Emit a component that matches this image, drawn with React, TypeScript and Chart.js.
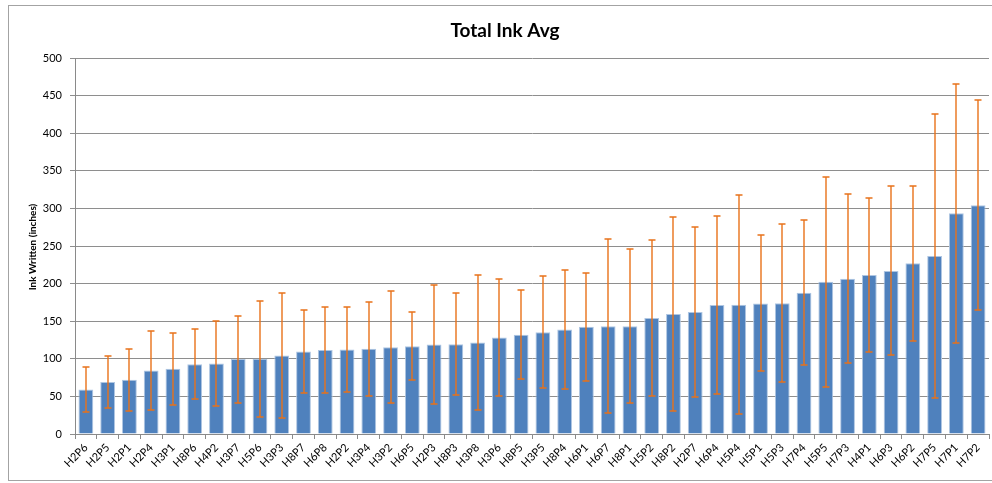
import React, { useEffect, useRef } from "react";
import { Chart, registerables } from "chart.js";

Chart.register(...registerables);

const categories = [
  "H2P6", "H2P5", "H2P1", "H2P4", "H3P1", "H8P6", "H4P2", "H3P7", "H5P6", "H3P3",
  "H8P7", "H6P8", "H2P2", "H3P4", "H3P2", "H6P5", "H2P3", "H8P3", "H3P8", "H3P6",
  "H8P5", "H3P5", "H8P4", "H6P1", "H6P7", "H8P1", "H5P2", "H8P2", "H2P7", "H6P4",
  "H5P4", "H5P1", "H5P3", "H7P4", "H5P5", "H7P3", "H4P1", "H6P3", "H6P2", "H7P5",
  "H7P1", "H7P2",
];

const avgInk = [
  59.3, 69.1, 72.2, 84.6, 86.9, 92.8, 93.8, 99.6, 100, 104.4,
  109.8, 111.6, 112.3, 113.5, 115.5, 116.8, 119, 119.5, 121.7, 128.3,
  132.1, 135.3, 139, 142.5, 143.2, 143.4, 154.1, 159.6, 162.1, 171.5,
  171.9, 173.7, 173.9, 187.9, 202.3, 206.3, 211.4, 216.9, 227, 236.7,
  293.5, 304.3,
];

const stdDev = [
  29.5, 34.9, 41.1, 52.6, 47.8, 46.2, 56, 57.8, 76.9, 82.7,
  54.7, 57.4, 56.4, 62.5, 74.5, 44.9, 79, 68, 89.7, 77.8,
  59.3, 74.4, 79.5, 72, 115.7, 102.6, 103.9, 129, 113, 118.7,
  145.3, 90.3, 104.7, 96.5, 139.3, 112.3, 102.7, 112.3, 102.8, 189.3,
  172.4, 139.4,
];

const yTicks = { min: 0, max: 500, step: 50 };

const titleText = "Total Ink Avg";
const yTitleText = "Ink Written (inches)";

const FONT = "Lato, 'Open Sans', 'DejaVu Sans', sans-serif";

const decorPlugin = {
  id: "decor",
  beforeDraw(chart: any) {
    const ctx = chart.ctx;
    ctx.save();
    ctx.fillStyle = "#ffffff";
    ctx.fillRect(0, 0, chart.width, chart.height);
    ctx.strokeStyle = "#a3a3a3";
    ctx.lineWidth = 1;
    ctx.strokeRect(8.5, 5.5, 1010, 475);
    ctx.restore();
  },
  afterDraw(chart: any) {
    const ctx = chart.ctx;
    ctx.save();
    ctx.fillStyle = "#000000";
    ctx.textAlign = "center";
    ctx.textBaseline = "middle";
    ctx.font = `bold 19px ${FONT}`;
    ctx.fillText(titleText, 505, 31);
    ctx.translate(33, 247);
    ctx.rotate(-Math.PI / 2);
    ctx.font = `bold 10px ${FONT}`;
    ctx.fillText(yTitleText, 0, 0);
    ctx.restore();
  },
};

const errorBarPlugin = {
  id: "errorBars",
  afterDatasetsDraw(chart: any) {
    const ctx = chart.ctx;
    const meta = chart.getDatasetMeta(0);
    const y = chart.scales.y;
    ctx.save();
    ctx.strokeStyle = "#E8721A";
    ctx.lineWidth = 1.4;
    meta.data.forEach((bar: any, i: number) => {
      const x = Math.round(bar.x);
      const top = Math.round(y.getPixelForValue(avgInk[i] + stdDev[i]));
      const bot = Math.round(y.getPixelForValue(Math.max(avgInk[i] - stdDev[i], 0)));
      ctx.beginPath();
      ctx.moveTo(x, top);
      ctx.lineTo(x, bot);
      ctx.moveTo(x - 3.5, top);
      ctx.lineTo(x + 3.5, top);
      ctx.moveTo(x - 3.5, bot);
      ctx.lineTo(x + 3.5, bot);
      ctx.stroke();
    });
    ctx.restore();
  },
};

export default function App() {
  const ref = useRef<HTMLCanvasElement>(null);

  useEffect(() => {
    if (!ref.current) return;
    const chart = new Chart(ref.current, {
      type: "bar",
      data: {
        labels: categories,
        datasets: [
          {
            label: "Total Ink Avg",
            data: avgInk,
            backgroundColor: "#4F81BD",
            borderColor: "#AFC6E2",
            borderWidth: 1,
            categoryPercentage: 1,
            barPercentage: 0.68,
          },
        ],
      },
      options: {
        responsive: false,
        maintainAspectRatio: false,
        animation: false,
        layout: { padding: { top: 58, left: 0, right: 3, bottom: 0 } },
        plugins: {
          legend: { display: false },
          title: { display: false },
          tooltip: { enabled: false },
        },
        scales: {
          x: {
            afterFit: (s: any) => {
              s.height = 49;
            },
            grid: {
              display: true,
              offset: true,
              drawOnChartArea: false,
              drawTicks: true,
              tickLength: 5,
              color: "#8a8a8a",
            },
            border: { display: true, color: "#8a8a8a" },
            ticks: {
              autoSkip: false,
              minRotation: 45,
              maxRotation: 45,
              padding: 2,
              color: "#000000",
              font: { family: FONT, size: 11 },
            },
          },
          y: {
            min: yTicks.min,
            max: yTicks.max,
            afterFit: (s: any) => {
              s.width = 75;
            },
            grid: {
              color: "#8e8e8e",
              tickLength: 5,
              drawTicks: true,
            },
            border: { display: true, color: "#8a8a8a" },
            ticks: {
              stepSize: yTicks.step,
              padding: 8,
              color: "#000000",
              font: { family: FONT, size: 11 },
            },
          },
        },
      },
      plugins: [decorPlugin, errorBarPlugin],
    });
    return () => chart.destroy();
  }, []);

  return (
    <div style={{ position: "absolute", left: 0, top: 0, width: 992, height: 483 }}>
      <canvas ref={ref} width={992} height={483} style={{ display: "block" }} />
    </div>
  );
}
